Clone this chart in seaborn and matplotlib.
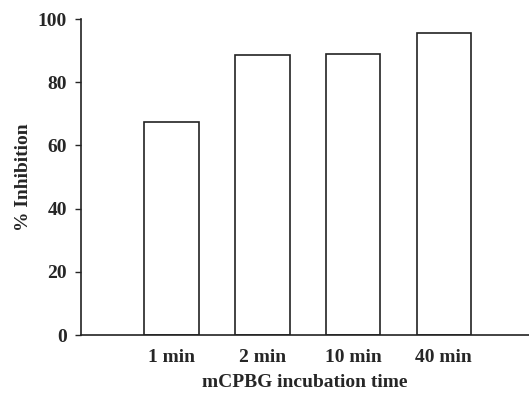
import pandas as pd
import numpy as np
import matplotlib.pyplot as plt
import seaborn as sns

# % inhibition after mCPBG incubation
times = ["1 min", "2 min", "10 min", "40 min"]
inhibition = [67.4, 88.7, 88.9, 95.6]

data = pd.DataFrame({"time": times, "inhibition": inhibition})

sns.set_style("ticks")
plt.rcParams['font.family'] = ['Liberation Serif', 'DejaVu Serif']
plt.rcParams['font.weight'] = 'bold'

fig = plt.figure(figsize=(5.29, 3.96), dpi=100)
ax = fig.add_axes([0.153, 0.154, 0.847, 0.798])

sns.barplot(x="time", y="inhibition", data=data, ax=ax, color="white",
            edgecolor="#222222", linewidth=1.2, width=0.6)

ax.set_ylim(0, 100)
ax.set_yticks([0, 20, 40, 60, 80, 100])
ax.set_xlim(-1.0, 3.94)
ax.tick_params(axis="x", length=0, labelsize=14, pad=10)
ax.tick_params(axis="y", length=4, width=1, labelsize=14, pad=6)
for t in ax.get_xticklabels() + ax.get_yticklabels():
    t.set_fontweight("bold")

ax.set_xlabel("mCPBG incubation time", fontsize=14, fontweight="bold", labelpad=6)
ax.set_ylabel("% Inhibition", fontsize=14, fontweight="bold", labelpad=4)

sns.despine(ax=ax)
ax.spines["left"].set_linewidth(1.2)
ax.spines["bottom"].set_linewidth(1.2)
ax.spines["left"].set_color("#222222")
ax.spines["bottom"].set_color("#222222")

fig.savefig("out.png", dpi=100)
